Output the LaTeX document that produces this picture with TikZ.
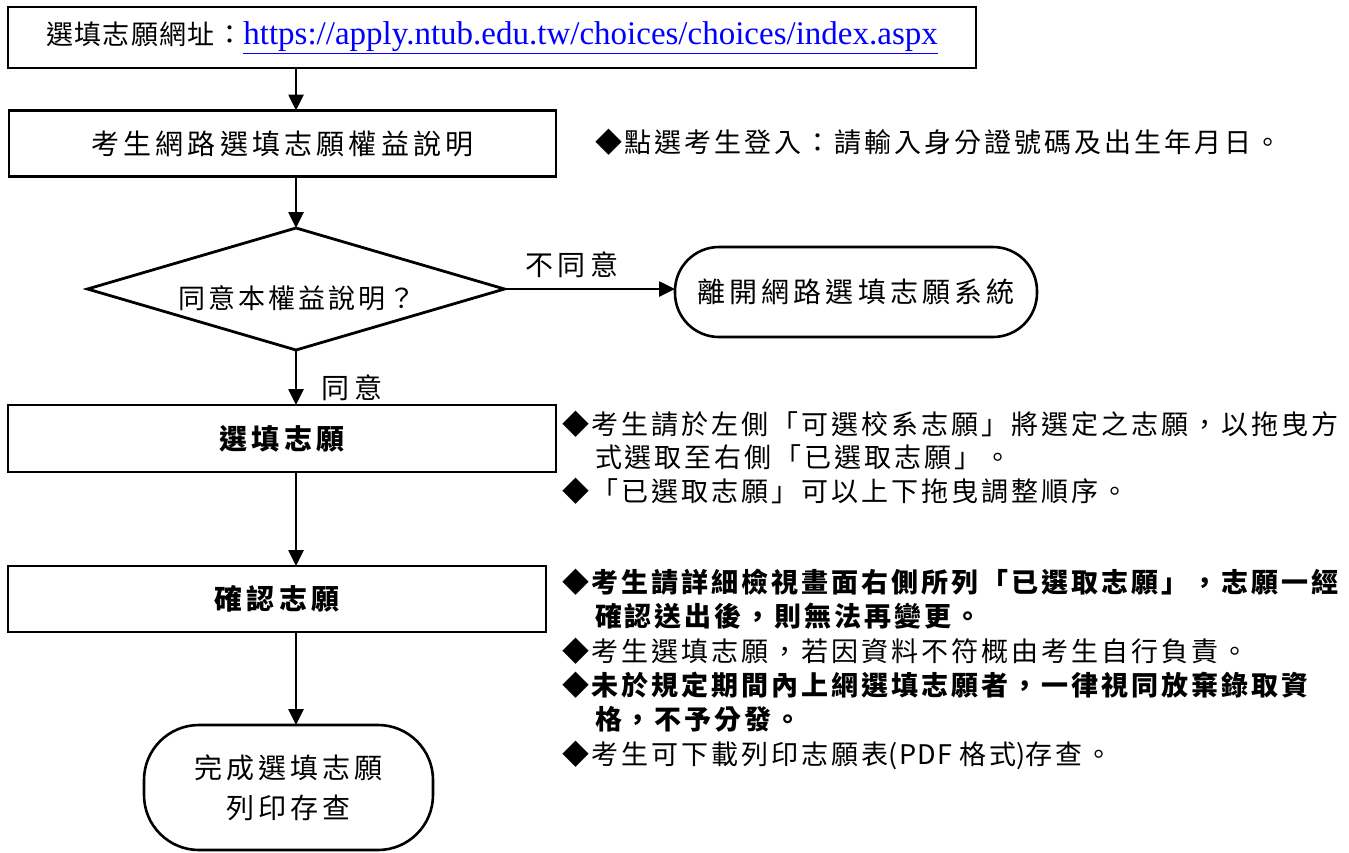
\documentclass[tikz,border=0pt]{standalone}
\usepackage{fontspec}
\setmainfont{Liberation Serif}
\newfontfamily\cjk{Noto Sans CJK TC}[LetterSpace=11]
\newfontfamily\cjkw{Noto Sans CJK TC}[LetterSpace=15]
\newfontfamily\cjkn{Noto Sans CJK TC}[LetterSpace=5]
\usetikzlibrary{arrows.meta,shapes.geometric}
\begin{document}
\begin{tikzpicture}[x=1pt,y=-1pt,
  every node/.style={inner sep=0pt,outer sep=0pt},
  box/.style={draw,line width=2.8pt,rectangle},
  term/.style={draw,line width=2.6pt,rectangle},
  arr/.style={line width=2.6pt,-{Triangle[length=16pt,width=15pt]}},
  note/.style={anchor=base west,font=\cjk\fontsize{27}{30}\selectfont},
  bnote/.style={anchor=base west,font=\cjk\fontsize{27}{30}\selectfont\bfseries},
  boxtxt/.style={font=\cjkw\fontsize{28}{30}\selectfont},
  bboxtxt/.style={font=\cjkw\fontsize{28}{30}\selectfont\bfseries}]
\useasboundingbox (0,0) rectangle (1349,852);

% top box with URL
\node[box,minimum width=968,minimum height=61] (url) at (492,37.5)
  {{\cjkn\fontsize{27}{30}\selectfont 選填志願網址：}{\fontsize{33}{36}\selectfont\color{blue}\underline{https://apply.ntub.edu.tw/choices/choices/index.aspx}}};

% rights box
\node[box,boxtxt,minimum width=547,minimum height=66] (b2) at (282.5,143.5) {考生網路選填志願權益說明};
\node[note] (n1) at (595,152) {◆點選考生登入：請輸入身分證號碼及出生年月日。};

% decision
\node[draw,diamond,aspect=3.4,line width=2.8pt,minimum width=417,minimum height=122] (q) at (296,289) {};
\node[font=\cjk\fontsize{27}{30}\selectfont] (qt) at (297,298) {同意本權益說明？};

% exit terminal
\node[term,boxtxt,minimum width=362,minimum height=90,rounded corners=44] (t1) at (856,292) {離開網路選填志願系統};

% labels
\node[boxtxt] (lno) at (572,265) {不同意};
\node[boxtxt] (lyes) at (352,388) {同意};

% fill in box
\node[box,bboxtxt,minimum width=548,minimum height=67] (b3) at (282,438.5) {選填志願};
\node[note] (n2a) at (562,434.5) {◆考生請於左側「可選校系志願」將選定之志願，以拖曳方};
\node[note] (n2b) at (595,467.5) {式選取至右側「已選取志願」。};
\node[note] (n2c) at (562,501.5) {◆「已選取志願」可以上下拖曳調整順序。};

% confirm box
\node[box,bboxtxt,minimum width=538,minimum height=66] (b4) at (277,599) {確認志願};
\node[bnote] (n3a) at (562,592.5) {◆考生請詳細檢視畫面右側所列「已選取志願」，志願一經};
\node[bnote] (n3b) at (595,626.5) {確認送出後，則無法再變更。};
\node[note] (n3c) at (562,661.5) {◆考生選填志願，若因資料不符概由考生自行負責。};
\node[bnote] (n3d) at (562,695.5) {◆未於規定期間內上網選填志願者，一律視同放棄錄取資};
\node[bnote] (n3e) at (595,729.5) {格，不予分發。};
\node[note] (n3f) at (562,764.5) {◆考生可下載列印志願表{\cjkn(PDF }格式{\cjkn)}存查。};

% final terminal
\node[term,align=center,font=\cjkw\fontsize{28}{40}\selectfont,minimum width=289,minimum height=125,rounded corners=55] (t2) at (288.5,787.5) {完成選填志願\\列印存查};

% connectors
\draw[arr] (url.south -| q.north) -- (b2.north -| q.north);
\draw[arr] (b2.south -| q.north) -- (q.north);
\draw[arr] (q.east) -- (q.east -| t1.west);
\draw[arr] (q.south) -- (b3.north -| q.south);
\draw[arr] (b3.south -| q.south) -- (b4.north -| q.south);
\draw[arr] (b4.south -| q.south) -- (t2.north -| q.south);
\end{tikzpicture}
\end{document}
